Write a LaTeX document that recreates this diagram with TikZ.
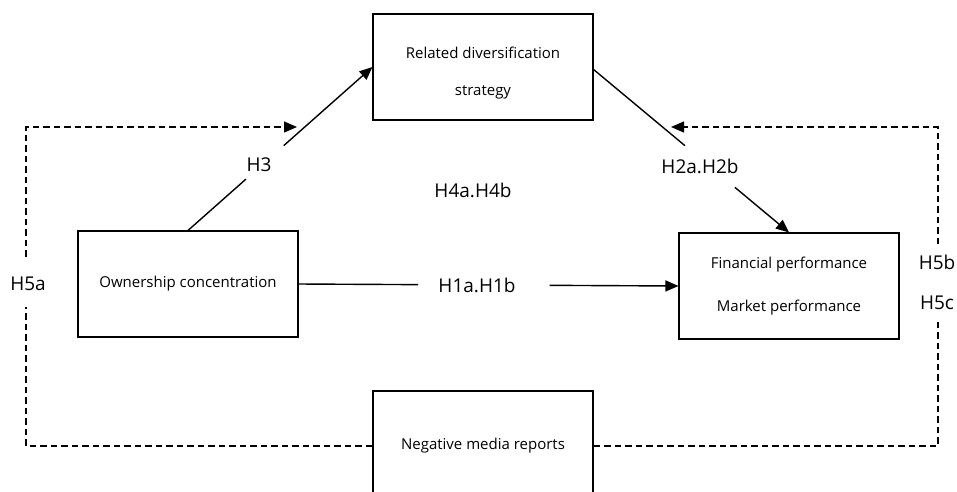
\documentclass[tikz,border=0pt]{standalone}
\usepackage{fontspec}
\setmainfont{Open Sans}
\usetikzlibrary{arrows.meta,calc}
\begin{document}
\begin{tikzpicture}[x=1pt,y=-1pt,
  box/.style={draw, line width=1.1pt, minimum width=220pt, minimum height=106pt, inner sep=0pt, align=center, font=\fontsize{15}{37}\selectfont},
  boxtext/.style={inner sep=0pt, align=center, font=\fontsize{15}{37}\selectfont},
  lab/.style={font=\fontsize{19}{21}\selectfont, inner sep=1pt},
  conn/.style={line width=1.4pt},
  tip/.style={-{Triangle[length=13pt,width=11pt]}},
  dline/.style={line width=1.3pt, dash pattern=on 6.5pt off 4pt}]
\useasboundingbox (0,0) rectangle (957,491);
\clip (0,0) rectangle (957,491);
\fill[white] (0,0) rectangle (957,491);
% boxes
\node[box] (rel) at (483,67) {};
\node[boxtext] (reltext) at (483,73) {Related diversification\\strategy};
\node[box] (own) at (188,284) {Ownership concentration};
\node[box, font=\fontsize{15}{43}\selectfont] (fin) at (789,286) {Financial performance\\Market performance};
\node[box, minimum height=110pt] (neg) at (483,446) {Negative media reports};
% coordinates for dashed paths
\coordinate (lc) at (26,127);
\coordinate (rc) at (938,127);
\coordinate (h5aend) at (297,127);
\coordinate (h5bend) at (671,127);
% H3
\draw[conn] (own.north) -- ($(own.north)!0.314!(rel.west)$);
\draw[conn,tip] ($(own.north)!0.519!(rel.west)$) -- (rel.west);
\node[lab] (h3) at (259,165) {H3};
% H2
\coordinate (relr) at (593,69);
\draw[conn] (relr) -- ($(relr)!0.469!(fin.north)$);
\draw[conn,tip] ($(relr)!0.724!(fin.north)$) -- (fin.north);
\node[lab] (h2) at (700,166) {H2a.H2b};
% H1
\draw[conn] (own.east) -- ($(own.east)!0.315!(fin.west)$);
\draw[conn,tip] ($(own.east)!0.661!(fin.west)$) -- (fin.west);
\node[lab] (h1) at (477,285) {H1a.H1b};
% H4
\node[lab] (h4) at (473,190) {H4a.H4b};
% dashed
\draw[dline,tip] (neg.west) -| (lc) -- (h5aend);
\draw[dline,tip] (neg.east) -| (rc) -- (h5bend);
\node[lab, fill=white, minimum height=46pt] (h5a) at (28,284) {H5a};
\node[lab, fill=white, minimum height=76pt, align=center, font=\fontsize{19}{40}\selectfont] (h5bc) at (937,282) {H5b\\H5c};
\end{tikzpicture}
\end{document}
